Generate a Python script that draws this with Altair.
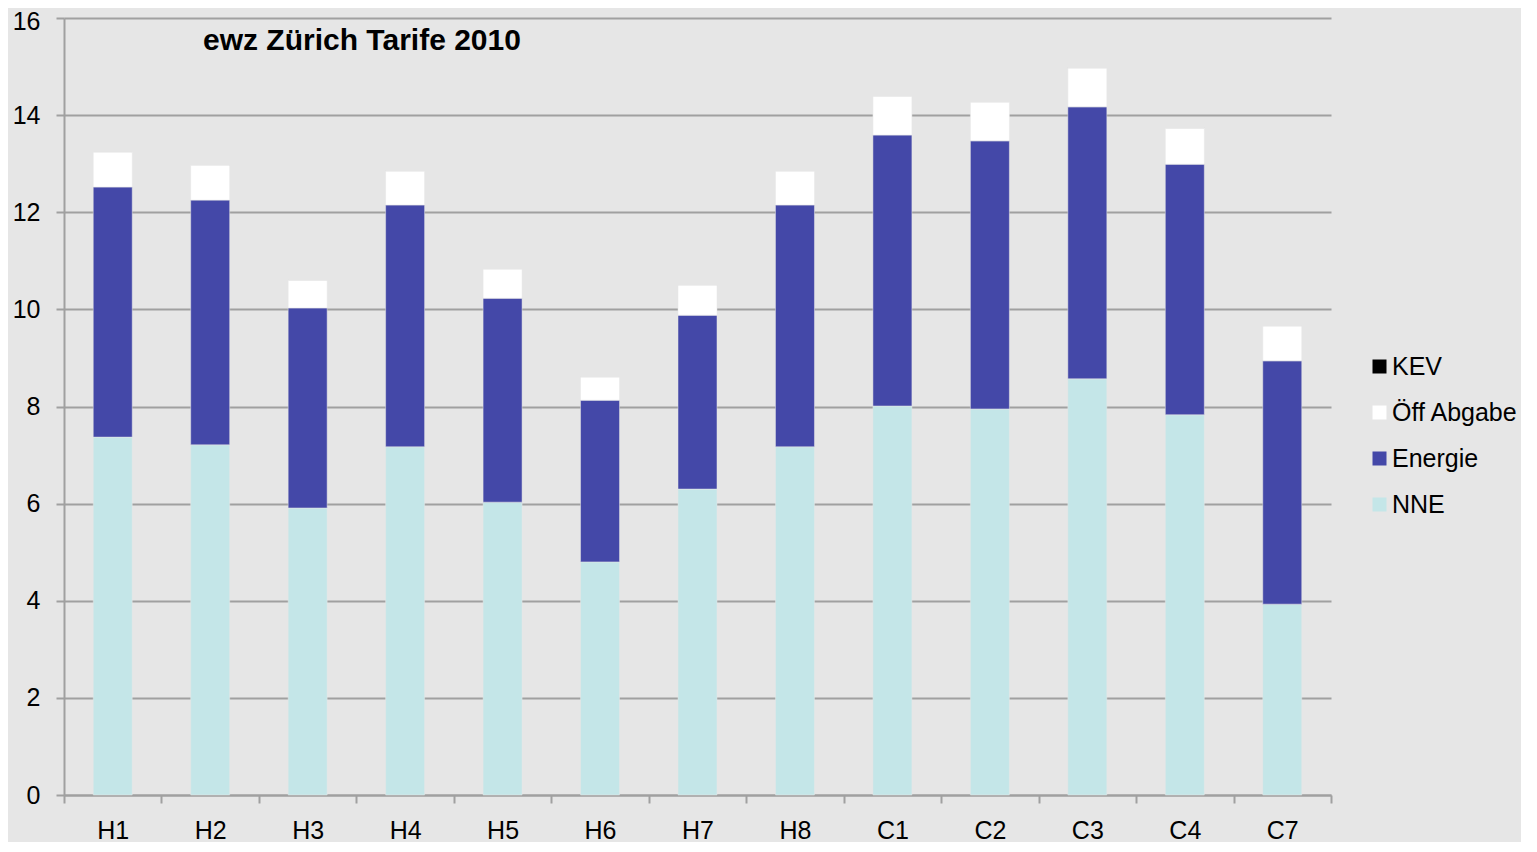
import altair as alt
import pandas as pd

categories = ["H1", "H2", "H3", "H4", "H5", "H6", "H7", "H8", "C1", "C2", "C3", "C4", "C7"]
nne = [7.37, 7.21, 5.91, 7.17, 6.03, 4.80, 6.30, 7.17, 8.01, 7.95, 8.57, 7.83, 3.93]
energie = [5.15, 5.04, 4.12, 4.98, 4.20, 3.33, 3.58, 4.98, 5.58, 5.52, 5.60, 5.16, 5.01]
oeff = [0.72, 0.72, 0.57, 0.70, 0.60, 0.48, 0.62, 0.70, 0.80, 0.80, 0.80, 0.74, 0.72]
kev = [0.0] * 13

series_names = ["KEV", "Öff Abgabe", "Energie", "NNE"]
series_colors = ["#000000", "#FFFFFF", "#4448A8", "#C4E6E8"]
stack_rank = {"NNE": 0, "Energie": 1, "Öff Abgabe": 2, "KEV": 3}
title_text = "ewz Zürich Tarife 2010"

rows = []
for name, vals in [("NNE", nne), ("Energie", energie), ("Öff Abgabe", oeff), ("KEV", kev)]:
    for c, v in zip(categories, vals):
        rows.append({"cat": c, "series": name, "value": v, "rank": stack_rank[name]})
df = pd.DataFrame(rows)

font = "Liberation Sans"
grey = "#A0A0A0"

bars = alt.Chart(df).mark_bar(width=alt.RelativeBandSize(0.4), stroke="#E6E6E6",
                              strokeWidth=0.5).encode(
    x=alt.X("cat:N", sort=categories, title=None,
            scale=alt.Scale(paddingInner=0, paddingOuter=0),
            axis=alt.Axis(labelAngle=0, tickBand="extent", tickSize=8, tickColor=grey,
                          tickWidth=2, domainColor=grey, domainWidth=2, labelPadding=15,
                          labelFontSize=25, labelFont=font, labelColor="#000000", grid=False)),
    y=alt.Y("value:Q", stack="zero", title=None,
            scale=alt.Scale(domain=[0, 16], nice=False),
            axis=alt.Axis(values=list(range(0, 17, 2)), tickSize=8, tickColor=grey, tickWidth=2,
                          domainColor=grey, domainWidth=2, gridColor=grey, gridWidth=2,
                          labelPadding=16, labelFontSize=25, labelFont=font,
                          labelColor="#000000",
                          labelOffset=alt.ExprRef("datum.value == 16 ? 3 : 0"))),
    color=alt.Color("series:N",
                    scale=alt.Scale(domain=series_names, range=series_colors),
                    legend=alt.Legend(title=None, orient="none", legendX=1303, legendY=336,
                                      symbolType="square", symbolSize=196, symbolStrokeWidth=0,
                                      labelFontSize=25, labelFont=font, labelColor="#000000",
                                      labelOffset=0, rowPadding=20)),
    order=alt.Order("rank:Q", sort="ascending"),
)

title = alt.Chart(pd.DataFrame({"t": [title_text]})).mark_text(
    align="left", baseline="alphabetic", fontSize=30, fontWeight="bold", font=font, color="#000000"
).encode(x=alt.value(139), y=alt.value(32), text="t:N")

chart = alt.layer(bars, title).properties(
    width=1267, height=777,
    autosize=alt.AutoSizeParams(type="none"),
    padding={"left": 56, "top": 10, "right": 190, "bottom": 47},
).configure(background="#E6E6E6").configure_view(fill="#E6E6E6", stroke=None)

chart.save("out.html", embed_options={"renderer": "svg", "actions": False})
